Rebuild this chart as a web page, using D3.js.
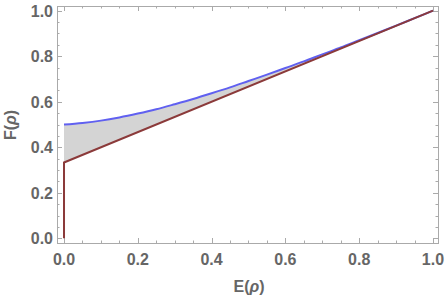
<!DOCTYPE html>
<html lang="en">
<head>
    <meta charset="UTF-8">
    <title>F vs E</title>
    <script src="https://d3js.org/d3.v7.min.js"></script>
    <style>
        body {
            margin: 0;
            background: white;
        }
        .tick-label {
            font-family: "Liberation Sans", Arial, sans-serif;
            font-size: 16px;
            font-weight: bold;
            fill: #666;
        }
        .axis-label {
            font-family: "Liberation Sans", Arial, sans-serif;
            font-size: 16px;
            font-weight: bold;
            fill: #666;
        }
    </style>
</head>
<body>
    <svg width="447" height="297"></svg>
    <script>
        // Upper boundary (blue)
        const blueE = [0, 0.05, 0.1, 0.15, 0.2, 0.25, 0.3, 0.35, 0.4, 0.45, 0.5,
                       0.55, 0.6, 0.65, 0.7, 0.75, 0.8, 0.85, 0.9, 0.95, 1.0];
        const blueF = [0.5, 0.507, 0.517, 0.531, 0.548, 0.567, 0.589, 0.612, 0.637, 0.663, 0.691,
                       0.719, 0.748, 0.777, 0.808, 0.838, 0.870, 0.902, 0.934, 0.967, 1.0];

        // Lower boundary (dark red)
        const redE = [0, 0, 1];
        const redF = [0, 0.333, 1];

        const xTicks = [0, 0.2, 0.4, 0.6, 0.8, 1.0];
        const yTicks = [0, 0.2, 0.4, 0.6, 0.8, 1.0];

        // Frame box in pixels
        const frame = {left: 57, right: 438, top: 6, bottom: 243};

        const x = d3.scaleLinear().domain([-0.019, 1.0136]).range([frame.left, frame.right]);
        const y = d3.scaleLinear().domain([-0.0205, 1.0205]).range([frame.bottom, frame.top]);

        const svg = d3.select("svg");

        const bluePts = blueE.map((e, i) => [e, blueF[i]]);
        const redPts = redE.map((e, i) => [e, redF[i]]);

        // Shaded region between the two boundaries
        const region = bluePts.concat([[1, 1], [0, 0.333]]);
        svg.append("path")
           .attr("d", d3.line().x(d => x(d[0])).y(d => y(d[1]))(region) + "Z")
           .attr("fill", "#d4d4d4")
           .attr("stroke", "none");

        // Frame ticks (inward), all four sides
        const minor = d3.range(0, 1.0001, 0.05);
        const g = svg.append("g").attr("stroke", "#aaa").attr("stroke-width", 1);
        minor.forEach(v => {
            const major = Math.abs(Math.round(v * 5) - v * 5) < 1e-6;
            const len = major ? 5 : 2.5;
            const px = Math.round(x(v)) + 0.5, py = Math.round(y(v)) + 0.5;
            g.append("line").attr("x1", px).attr("x2", px).attr("y1", frame.bottom).attr("y2", frame.bottom - len);
            g.append("line").attr("x1", px).attr("x2", px).attr("y1", frame.top).attr("y2", frame.top + len);
            g.append("line").attr("y1", py).attr("y2", py).attr("x1", frame.left).attr("x2", frame.left + len);
            g.append("line").attr("y1", py).attr("y2", py).attr("x1", frame.right).attr("x2", frame.right - len);
        });

        svg.append("rect")
           .attr("x", frame.left + 0.5).attr("y", frame.top + 0.5)
           .attr("width", frame.right - frame.left).attr("height", frame.bottom - frame.top)
           .attr("fill", "none").attr("stroke", "#aaa").attr("stroke-width", 1);

        // Curves
        const line = d3.line().x(d => x(d[0])).y(d => y(d[1]));
        svg.append("path")
           .attr("d", d3.line().curve(d3.curveMonotoneX).x(d => x(d[0])).y(d => y(d[1]))(bluePts))
           .attr("fill", "none").attr("stroke", "#6060f0").attr("stroke-width", 2);
        svg.append("path")
           .attr("d", line(redPts))
           .attr("fill", "none").attr("stroke", "#8b3a3a").attr("stroke-width", 2);

        // Tick labels
        svg.selectAll(".xl").data(xTicks).enter().append("text")
           .attr("class", "tick-label")
           .attr("x", d => x(d)).attr("y", 265)
           .attr("text-anchor", "middle")
           .text(d => d.toFixed(1));

        svg.selectAll(".yl").data(yTicks).enter().append("text")
           .attr("class", "tick-label")
           .attr("x", 53).attr("y", d => y(d) + 6)
           .attr("text-anchor", "end")
           .text(d => d.toFixed(1));

        // Axis labels, with italic rho
        function axisLabel(sel, name) {
            sel.append("tspan").text(name + "(");
            sel.append("tspan").attr("font-style", "italic").text("ρ");
            sel.append("tspan").text(")");
        }

        svg.append("text").attr("class", "axis-label")
           .attr("x", 249).attr("y", 292)
           .attr("text-anchor", "middle")
           .call(axisLabel, "E");

        svg.append("text").attr("class", "axis-label")
           .attr("transform", "translate(16,125) rotate(-90)")
           .attr("text-anchor", "middle")
           .call(axisLabel, "F");
    </script>
</body>
</html>
